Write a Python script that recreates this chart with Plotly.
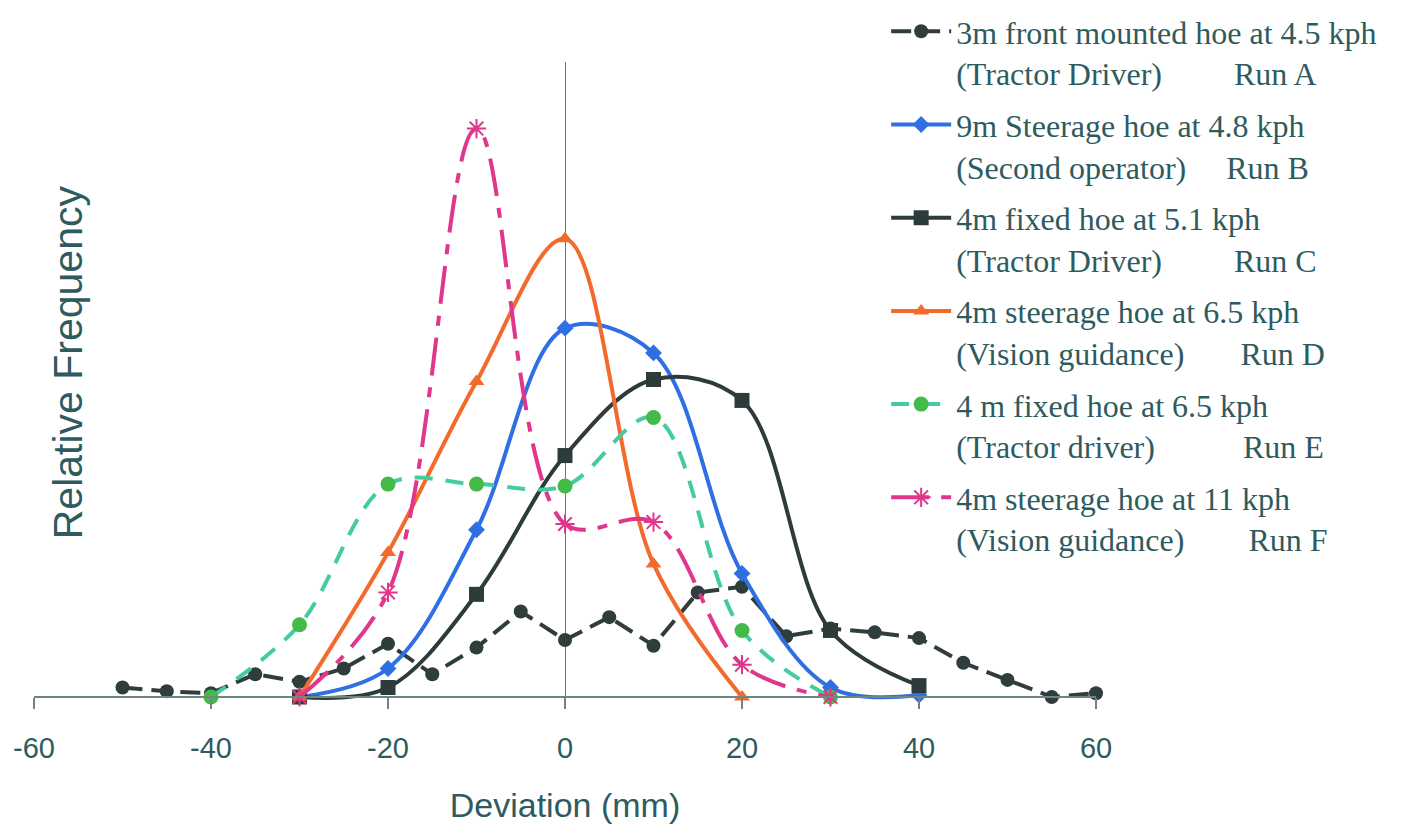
import plotly.graph_objects as go

NB = "\u00a0"

# ---------------- data ----------------
x_a = [-50, -45, -40, -35, -30, -25, -20, -15, -10, -5, 0, 5, 10, 15, 20, 25, 30, 35, 40, 45, 50, 55, 60]
y_a = [0.005, 0.003, 0.002, 0.012, 0.008, 0.015, 0.028, 0.012, 0.026, 0.045, 0.030, 0.042, 0.027,
       0.055, 0.058, 0.032, 0.036, 0.034, 0.031, 0.018, 0.009, 0.000, 0.002]

x_b = [-30, -20, -10, 0, 10, 20, 30, 40]
y_b = [0.000, 0.015, 0.088, 0.194, 0.181, 0.065, 0.005, 0.001]

x_c = [-30, -20, -10, 0, 10, 20, 30, 40]
y_c = [0.000, 0.005, 0.054, 0.127, 0.167, 0.156, 0.035, 0.006]

x_d = [-30, -20, -10, 0, 10, 20]
y_d = [0.000, 0.076, 0.166, 0.241, 0.070, 0.000]

x_e = [-40, -30, -20, -10, 0, 10, 20, 30]
y_e = [0.000, 0.038, 0.112, 0.112, 0.111, 0.147, 0.035, 0.000]

x_f = [-30, -20, -10, 0, 10, 20, 30]
y_f = [0.000, 0.055, 0.299, 0.091, 0.092, 0.017, 0.000]

names = [
    "3m front mounted hoe at 4.5 kph<br>(Tractor Driver)" + NB * 9 + "Run A",
    "9m Steerage hoe at 4.8 kph<br>(Second operator)" + NB * 5 + "Run B",
    "4m fixed hoe at 5.1 kph<br>(Tractor Driver)" + NB * 9 + "Run C",
    "4m steerage hoe at 6.5 kph<br>(Vision guidance)" + NB * 7 + "Run D",
    "4 m fixed hoe at 6.5 kph<br>(Tractor driver)" + NB * 11 + "Run E",
    "4m steerage hoe at 11 kph<br>(Vision guidance)" + NB * 8 + "Run F",
]

x_ticks = [-60, -40, -20, 0, 20, 40, 60]

# ---------------- figure ----------------
TXT = "#2E5B5E"
AXC = "#6F8585"

fig = go.Figure()

fig.add_trace(go.Scatter(
    x=x_a, y=y_a, name=names[0], legendgroup="a", mode="lines+markers",
    line=dict(color="#2F3D3D", width=4, dash="20px,9px"),
    marker=dict(symbol="circle", size=14, color="#2F3D3D"),
    cliponaxis=False))

fig.add_trace(go.Scatter(
    x=x_b, y=y_b, name=names[1], legendgroup="b", mode="lines+markers",
    line=dict(color="#2F6FE4", width=4, shape="spline", smoothing=1),
    marker=dict(symbol="diamond", size=13, color="#2F6FE4"),
    cliponaxis=False))

fig.add_trace(go.Scatter(
    x=x_c, y=y_c, name=names[2], legendgroup="c", mode="lines+markers",
    line=dict(color="#2E3B3B", width=4, shape="spline", smoothing=1),
    marker=dict(symbol="square", size=15, color="#2E3B3B"),
    cliponaxis=False))

fig.add_trace(go.Scatter(
    x=x_d, y=y_d, name=names[3], legendgroup="d", mode="lines+markers",
    line=dict(color="#F26A2C", width=4, shape="spline", smoothing=1),
    marker=dict(symbol="triangle-up", size=14, color="#F26A2C"),
    cliponaxis=False))

fig.add_trace(go.Scatter(
    x=x_e, y=y_e, name=names[4], legendgroup="e", mode="lines+markers",
    line=dict(color="#45CBA2", width=4, shape="spline", smoothing=1, dash="18px,13px"),
    marker=dict(symbol="circle", size=15, color="#44BB48"),
    cliponaxis=False))

fig.add_trace(go.Scatter(
    x=x_f, y=y_f, name=names[5], legendgroup="f", mode="lines+markers",
    line=dict(color="#E0368C", width=4, shape="spline", smoothing=1, dash="38px,12px,10px,12px"),
    marker=dict(symbol="asterisk-open", size=16, color="#E0368C",
                line=dict(color="#E0368C", width=2)),
    cliponaxis=False))

y_lo, y_hi = -0.0042, 0.334
zero_frac = (0 - y_lo) / (y_hi - y_lo)

fig.update_layout(
    width=1401, height=830,
    margin=dict(l=34, r=305, t=62, b=125, autoexpand=False),
    paper_bgcolor="white", plot_bgcolor="white",
    showlegend=True,
    legend=dict(
        x=0.8024, xanchor="left", y=1.0902, yanchor="top",
        font=dict(family="Liberation Serif, Times New Roman, serif", size=32, color=TXT),
        valign="top", tracegroupgap=7, itemwidth=60, maxheight=830,
        bgcolor="rgba(0,0,0,0)",
    ),
    xaxis=dict(
        range=[-60, 60], tickvals=x_ticks, ticktext=[str(v) for v in x_ticks],
        anchor="free", position=zero_frac,
        showline=True, linecolor=AXC, linewidth=1.5,
        ticks="outside", ticklen=11, tickcolor=AXC, tickwidth=1.5,
        ticklabelstandoff=14,
        showgrid=False, zeroline=True, zerolinecolor="#5E7E80", zerolinewidth=1,
        tickfont=dict(family="Liberation Sans, Arial, sans-serif", size=29, color=TXT),
        title=dict(text="Deviation (mm)", standoff=30,
                   font=dict(family="Liberation Sans, Arial, sans-serif", size=34, color=TXT)),
    ),
    yaxis=dict(
        range=[y_lo, y_hi], showline=False, showgrid=False, zeroline=False,
        showticklabels=False, ticks="",
    ),
    annotations=[dict(
        text="Relative Frequency", textangle=-90, xref="paper", yref="paper",
        x=0.032, y=0.533, xanchor="center", yanchor="middle", showarrow=False,
        font=dict(family="Liberation Sans, Arial, sans-serif", size=41, color=TXT),
    )],
)

fig.write_html("out.html")
